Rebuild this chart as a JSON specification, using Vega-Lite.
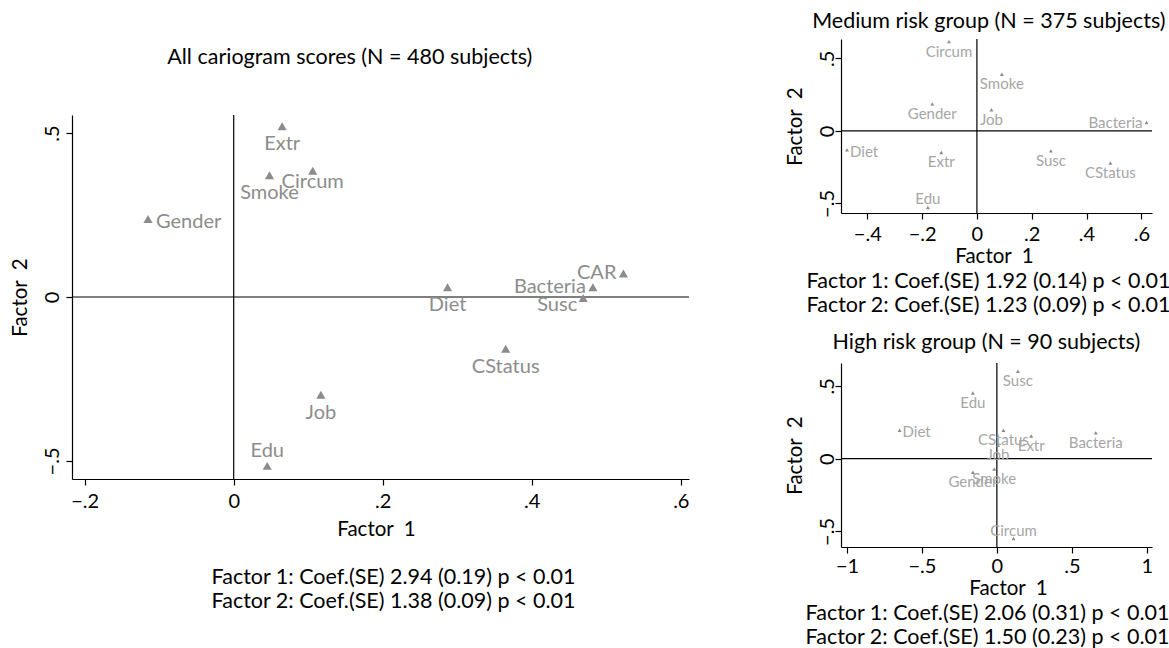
{
  "$schema": "https://vega.github.io/schema/vega-lite/v6.json",
  "background": "white",
  "padding": {"left": 10, "top": 10, "right": 0, "bottom": 0},
  "config": {
    "font": "Lato",
    "view": {"stroke": null},
    "title": {"fontSize": 21.5, "fontWeight": "normal", "color": "black", "font": "Lato", "anchor": "middle", "lineHeight": 24},
    "axis": {
      "grid": false,
      "domainColor": "black",
      "domainWidth": 1.2,
      "tickColor": "black",
      "tickWidth": 1.2,
      "tickSize": 6,
      "labelColor": "black",
      "labelFontSize": 20,
      "labelFont": "Lato",
      "titleFont": "Lato",
      "titleFontSize": 20.5,
      "titleFontWeight": "normal",
      "titleColor": "black",
      "labelFlush": false,
      "labelOverlap": false
    },
    "axisY": {"labelAngle": -90, "labelAlign": "center", "labelBaseline": "middle", "titleBaseline": "middle", "titleAngle": -90}
  },
  "datasets": {
    "all": [
      {"var": "Extr", "f1": 0.065, "f2": 0.521},
      {"var": "Circum", "f1": 0.106, "f2": 0.385},
      {"var": "Smoke", "f1": 0.048, "f2": 0.371},
      {"var": "Gender", "f1": -0.115, "f2": 0.238},
      {"var": "CAR", "f1": 0.523, "f2": 0.072},
      {"var": "Bacteria", "f1": 0.482, "f2": 0.030},
      {"var": "Susc", "f1": 0.469, "f2": -0.003},
      {"var": "Diet", "f1": 0.287, "f2": 0.030},
      {"var": "CStatus", "f1": 0.365, "f2": -0.158},
      {"var": "Job", "f1": 0.117, "f2": -0.298},
      {"var": "Edu", "f1": 0.045, "f2": -0.515}
    ],
    "medium": [
      {"var": "Circum", "f1": -0.102, "f2": 0.615},
      {"var": "Smoke", "f1": 0.091, "f2": 0.390},
      {"var": "Gender", "f1": -0.163, "f2": 0.186},
      {"var": "Job", "f1": 0.053, "f2": 0.145},
      {"var": "Bacteria", "f1": 0.619, "f2": 0.057},
      {"var": "Diet", "f1": -0.474, "f2": -0.131},
      {"var": "Extr", "f1": -0.130, "f2": -0.149},
      {"var": "Susc", "f1": 0.270, "f2": -0.138},
      {"var": "CStatus", "f1": 0.487, "f2": -0.222},
      {"var": "Edu", "f1": -0.179, "f2": -0.528}
    ],
    "high": [
      {"var": "Susc", "f1": 0.140, "f2": 0.601},
      {"var": "Edu", "f1": -0.160, "f2": 0.451},
      {"var": "Diet", "f1": -0.649, "f2": 0.195},
      {"var": "CStatus", "f1": 0.044, "f2": 0.195},
      {"var": "Extr", "f1": 0.229, "f2": 0.155},
      {"var": "Bacteria", "f1": 0.660, "f2": 0.177},
      {"var": "Job", "f1": 0.007, "f2": 0.092},
      {"var": "Smoke", "f1": -0.018, "f2": -0.072},
      {"var": "Gender", "f1": -0.160, "f2": -0.094},
      {"var": "Circum", "f1": 0.111, "f2": -0.549}
    ]
  },
  "spacing": 95,
  "hconcat": [
    {
      "spacing": 3,
      "vconcat": [
        {
          "width": 1,
          "height": 1,
          "data": {"values": [{}]},
          "mark": {"type": "point", "opacity": 0},
          "encoding": {}
        },
        {
          "title": {"text": "All cariogram scores (N = 480 subjects)", "offset": 46},
          "vconcat": [
            {
              "width": 617,
              "height": 364,
              "title": {"text": ["Factor 1: Coef.(SE) 2.94 (0.19) p < 0.01", "Factor 2: Coef.(SE) 1.38 (0.09) p < 0.01"], "orient": "bottom", "frame": "group", "dx": 13, "offset": 27},
              "data": {"name": "all"},
              "layer": [
                {
                  "data": {"values": [{}]},
                  "mark": {"type": "rule", "color": "black", "strokeWidth": 1.2},
                  "encoding": {"x": {"datum": 0, "type": "quantitative"}}
                },
                {
                  "data": {"values": [{}]},
                  "mark": {"type": "rule", "color": "black", "strokeWidth": 1.2},
                  "encoding": {"y": {"datum": 0, "type": "quantitative"}}
                },
                {
                  "mark": {"type": "point", "shape": "triangle-up", "filled": true, "size": 85, "color": "#8c8c8c", "opacity": 1},
                  "encoding": {
                    "x": {"field": "f1", "type": "quantitative", "scale": {"domain": [-0.217, 0.611], "nice": false, "zero": false},
                      "axis": {"values": [-0.2, 0, 0.2, 0.4, 0.6], "labelExpr": "datum.value == 0 ? '0' : replace(format(datum.value, '.1~f'), '0.', '.')", "labelPadding": 6, "titlePadding": 8, "titleX": 304, "title": "Factor\u00a0 1"}},
                    "y": {"field": "f2", "type": "quantitative", "scale": {"domain": [-0.555, 0.555], "nice": false, "zero": false},
                      "axis": {"values": [-0.5, 0, 0.5], "labelExpr": "datum.value == 0 ? '0' : replace(format(datum.value, '.1~f'), '0.', '.')", "labelPadding": 14, "titleX": -52, "title": "Factor\u00a0 2"}}
                  }
                },
                {
                  "transform": [{"filter": {"field": "var", "oneOf": ["Extr", "Smoke", "Diet", "CStatus", "Job"]}}],
                  "mark": {"type": "text", "fontSize": 20, "color": "#8c8c8c", "baseline": "middle", "align": "center", "dy": 18},
                  "encoding": {"x": {"field": "f1", "type": "quantitative"}, "y": {"field": "f2", "type": "quantitative"}, "text": {"field": "var"}}
                },
                {
                  "transform": [{"filter": {"field": "var", "oneOf": ["Circum"]}}],
                  "mark": {"type": "text", "fontSize": 20, "color": "#8c8c8c", "baseline": "middle", "align": "center", "dy": 11},
                  "encoding": {"x": {"field": "f1", "type": "quantitative"}, "y": {"field": "f2", "type": "quantitative"}, "text": {"field": "var"}}
                },
                {
                  "transform": [{"filter": {"field": "var", "oneOf": ["Edu"]}}],
                  "mark": {"type": "text", "fontSize": 20, "color": "#8c8c8c", "baseline": "middle", "align": "center", "dy": -15},
                  "encoding": {"x": {"field": "f1", "type": "quantitative"}, "y": {"field": "f2", "type": "quantitative"}, "text": {"field": "var"}}
                },
                {
                  "transform": [{"filter": {"field": "var", "oneOf": ["Gender"]}}],
                  "mark": {"type": "text", "fontSize": 20, "color": "#8c8c8c", "baseline": "middle", "align": "left", "dx": 8, "dy": 3},
                  "encoding": {"x": {"field": "f1", "type": "quantitative"}, "y": {"field": "f2", "type": "quantitative"}, "text": {"field": "var"}}
                },
                {
                  "transform": [{"filter": {"field": "var", "oneOf": ["CAR", "Bacteria"]}}],
                  "mark": {"type": "text", "fontSize": 20, "color": "#8c8c8c", "baseline": "middle", "align": "right", "dx": -7, "dy": 0},
                  "encoding": {"x": {"field": "f1", "type": "quantitative"}, "y": {"field": "f2", "type": "quantitative"}, "text": {"field": "var"}}
                },
                {
                  "transform": [{"filter": {"field": "var", "oneOf": ["Susc"]}}],
                  "mark": {"type": "text", "fontSize": 20, "color": "#8c8c8c", "baseline": "middle", "align": "right", "dx": -6, "dy": 7},
                  "encoding": {"x": {"field": "f1", "type": "quantitative"}, "y": {"field": "f2", "type": "quantitative"}, "text": {"field": "var"}}
                }
              ]
            }
          ]
        }
      ]
    },
    {
      "spacing": 15,
      "vconcat": [
        {
          "title": {"text": "Medium risk group (N = 375 subjects)", "offset": 6, "dx": 11},
          "vconcat": [
            {
              "width": 311,
              "height": 174,
              "title": {"text": ["Factor 1: Coef.(SE) 1.92 (0.14) p < 0.01", "Factor 2: Coef.(SE) 1.23 (0.09) p < 0.01"], "orient": "bottom", "frame": "group", "dx": -8, "offset": 4},
              "data": {"name": "medium"},
              "layer": [
                {
                  "data": {"values": [{}]},
                  "mark": {"type": "rule", "color": "black", "strokeWidth": 1.2},
                  "encoding": {"x": {"datum": 0, "type": "quantitative"}}
                },
                {
                  "data": {"values": [{}]},
                  "mark": {"type": "rule", "color": "black", "strokeWidth": 1.2},
                  "encoding": {"y": {"datum": 0, "type": "quantitative"}}
                },
                {
                  "mark": {"type": "point", "shape": "triangle-up", "filled": true, "size": 16, "color": "#8c8c8c", "opacity": 1},
                  "encoding": {
                    "x": {"field": "f1", "type": "quantitative", "scale": {"domain": [-0.496, 0.639], "nice": false, "zero": false},
                      "axis": {"values": [-0.4, -0.2, 0, 0.2, 0.4, 0.6], "labelExpr": "datum.value == 0 ? '0' : replace(format(datum.value, '.1~f'), '0.', '.')", "labelPadding": 5, "titlePadding": 2, "titleX": 153, "title": "Factor\u00a0 1"}},
                    "y": {"field": "f2", "type": "quantitative", "scale": {"domain": [-0.566, 0.633], "nice": false, "zero": false},
                      "axis": {"values": [-0.5, 0, 0.5], "labelExpr": "datum.value == 0 ? '0' : replace(format(datum.value, '.1~f'), '0.', '.')", "labelPadding": 8, "titleX": -46, "title": "Factor\u00a0 2"}}
                  }
                },
                {
                  "transform": [{"filter": {"field": "var", "oneOf": ["Circum", "Smoke", "Gender", "Job", "Extr", "Susc", "CStatus"]}}],
                  "mark": {"type": "text", "fontSize": 15, "color": "#a6a6a6", "baseline": "middle", "align": "center", "dy": 10},
                  "encoding": {"x": {"field": "f1", "type": "quantitative"}, "y": {"field": "f2", "type": "quantitative"}, "text": {"field": "var"}}
                },
                {
                  "transform": [{"filter": {"field": "var", "oneOf": ["Edu"]}}],
                  "mark": {"type": "text", "fontSize": 15, "color": "#a6a6a6", "baseline": "middle", "align": "center", "dy": -8},
                  "encoding": {"x": {"field": "f1", "type": "quantitative"}, "y": {"field": "f2", "type": "quantitative"}, "text": {"field": "var"}}
                },
                {
                  "transform": [{"filter": {"field": "var", "oneOf": ["Diet"]}}],
                  "mark": {"type": "text", "fontSize": 15, "color": "#a6a6a6", "baseline": "middle", "align": "left", "dx": 3, "dy": 2},
                  "encoding": {"x": {"field": "f1", "type": "quantitative"}, "y": {"field": "f2", "type": "quantitative"}, "text": {"field": "var"}}
                },
                {
                  "transform": [{"filter": {"field": "var", "oneOf": ["Bacteria"]}}],
                  "mark": {"type": "text", "fontSize": 15, "color": "#a6a6a6", "baseline": "middle", "align": "right", "dx": -4, "dy": 0},
                  "encoding": {"x": {"field": "f1", "type": "quantitative"}, "y": {"field": "f2", "type": "quantitative"}, "text": {"field": "var"}}
                }
              ]
            }
          ]
        },
        {
          "title": {"text": "High risk group (N = 90 subjects)", "offset": 9, "dx": 9},
          "vconcat": [
            {
              "width": 311,
              "height": 184,
              "title": {"text": ["Factor 1: Coef.(SE) 2.06 (0.31) p < 0.01", "Factor 2: Coef.(SE) 1.50 (0.23) p < 0.01"], "orient": "bottom", "frame": "group", "dx": -9, "offset": 4},
              "data": {"name": "high"},
              "layer": [
                {
                  "data": {"values": [{}]},
                  "mark": {"type": "rule", "color": "black", "strokeWidth": 1.2},
                  "encoding": {"x": {"datum": 0, "type": "quantitative"}}
                },
                {
                  "data": {"values": [{}]},
                  "mark": {"type": "rule", "color": "black", "strokeWidth": 1.2},
                  "encoding": {"y": {"datum": 0, "type": "quantitative"}}
                },
                {
                  "mark": {"type": "point", "shape": "triangle-up", "filled": true, "size": 16, "color": "#8c8c8c", "opacity": 1},
                  "encoding": {
                    "x": {"field": "f1", "type": "quantitative", "scale": {"domain": [-1.04, 1.035], "nice": false, "zero": false},
                      "axis": {"values": [-1, -0.5, 0, 0.5, 1], "labelExpr": "datum.value == 0 ? '0' : replace(format(datum.value, '.1~f'), '0.', '.')", "labelPadding": 3, "titlePadding": 2, "titleX": 167, "title": "Factor\u00a0 1"}},
                    "y": {"field": "f2", "type": "quantitative", "scale": {"domain": [-0.607, 0.657], "nice": false, "zero": false},
                      "axis": {"values": [-0.5, 0, 0.5], "labelExpr": "datum.value == 0 ? '0' : replace(format(datum.value, '.1~f'), '0.', '.')", "labelPadding": 8, "titleX": -46, "title": "Factor\u00a0 2"}}
                  }
                },
                {
                  "transform": [{"filter": {"field": "var", "oneOf": ["Susc", "Edu", "CStatus", "Extr", "Bacteria", "Job", "Smoke", "Gender"]}}],
                  "mark": {"type": "text", "fontSize": 15, "color": "#a6a6a6", "baseline": "middle", "align": "center", "dy": 10},
                  "encoding": {"x": {"field": "f1", "type": "quantitative"}, "y": {"field": "f2", "type": "quantitative"}, "text": {"field": "var"}}
                },
                {
                  "transform": [{"filter": {"field": "var", "oneOf": ["Circum"]}}],
                  "mark": {"type": "text", "fontSize": 15, "color": "#a6a6a6", "baseline": "middle", "align": "center", "dy": -8},
                  "encoding": {"x": {"field": "f1", "type": "quantitative"}, "y": {"field": "f2", "type": "quantitative"}, "text": {"field": "var"}}
                },
                {
                  "transform": [{"filter": {"field": "var", "oneOf": ["Diet"]}}],
                  "mark": {"type": "text", "fontSize": 15, "color": "#a6a6a6", "baseline": "middle", "align": "left", "dx": 3, "dy": 2},
                  "encoding": {"x": {"field": "f1", "type": "quantitative"}, "y": {"field": "f2", "type": "quantitative"}, "text": {"field": "var"}}
                }
              ]
            }
          ]
        }
      ]
    }
  ]
}
